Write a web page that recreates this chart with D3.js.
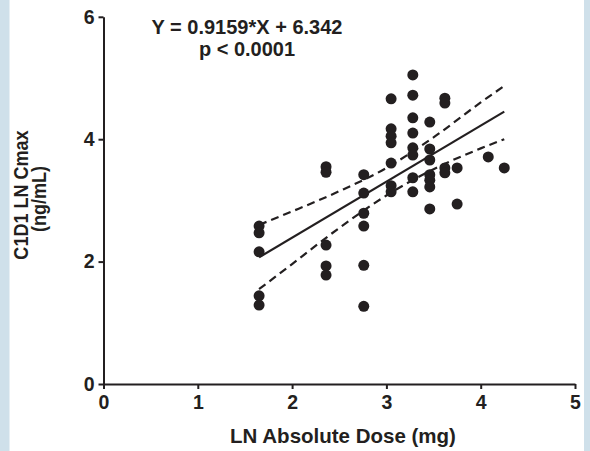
<!DOCTYPE html>
<html>
<head>
<meta charset="utf-8">
<script src="https://cdn.jsdelivr.net/npm/d3@7"></script>
<style>
  body { margin: 0; background: #fff; }
  svg { display: block; }
  text { font-family: "Liberation Sans", Arial, sans-serif; font-weight: bold; fill: #231f20; }
</style>
</head>
<body>
<svg width="590" height="451"></svg>
<script>
// ln dose (x) and ln Cmax (y) of every patient
var doseX = [
  1.65, 1.65, 1.65, 1.65, 1.65,
  2.36, 2.36, 2.36, 2.36, 2.36,
  2.76, 2.76, 2.76, 2.76, 2.76, 2.76,
  3.05, 3.05, 3.05, 3.05, 3.05, 3.05, 3.05,
  3.28, 3.28, 3.28, 3.28, 3.28, 3.28, 3.28, 3.28,
  3.46, 3.46, 3.46, 3.46, 3.46, 3.46, 3.46,
  3.62, 3.62, 3.62, 3.62,
  3.75, 3.75,
  4.08,
  4.25
];
var cmaxY = [
  2.58, 2.47, 2.16, 1.44, 1.29,
  3.55, 3.46, 2.27, 1.93, 1.78,
  3.42, 3.12, 2.79, 2.58, 1.94, 1.27,
  4.66, 4.17, 4.05, 3.94, 3.61, 3.24, 3.14,
  5.05, 4.72, 4.35, 4.10, 3.86, 3.74, 3.37, 3.14,
  4.28, 3.84, 3.66, 3.42, 3.33, 3.22, 2.86,
  4.67, 4.59, 3.53, 3.45,
  3.53, 2.94,
  3.71,
  3.53
];

// fitted line and 95% band
var fitX = [1.65, 4.25];
var fitY = [2.07, 4.45];
var bandX = [1.65, 2.0, 2.5, 3.0, 3.5, 4.0, 4.25];
var bandUpper = [2.60, 2.82, 3.15, 3.53, 4.03, 4.60, 4.87];
var bandLower = [1.55, 1.96, 2.55, 3.08, 3.51, 3.85, 4.00];

var xTicks = [0, 1, 2, 3, 4, 5];
var yTicks = [0, 2, 4, 6];

var svg = d3.select("svg");
var ink = "#231f20";

// pale blue page edges
svg.append("rect").attr("x", 0).attr("y", 0).attr("width", 9.5).attr("height", 451).attr("fill", "#cfe0ea");
svg.append("rect").attr("x", 584).attr("y", 0).attr("width", 6).attr("height", 451).attr("fill", "#cfe0ea");

var x = d3.scaleLinear().domain([0, 5]).range([103.5, 575]);
var y = d3.scaleLinear().domain([0, 6]).range([384, 16.8]);

var xAxis = svg.append("g")
  .attr("transform", "translate(0," + y(0) + ")")
  .call(d3.axisBottom(x).tickValues(xTicks).tickSize(5).tickSizeOuter(0).tickPadding(6).tickFormat(d3.format("d")));

var yAxis = svg.append("g")
  .attr("transform", "translate(" + x(0) + ",0)")
  .call(d3.axisLeft(y).tickValues(yTicks).tickSize(5).tickSizeOuter(0).tickPadding(4).tickFormat(d3.format("d")));

[xAxis, yAxis].forEach(function(a) {
  a.selectAll("path, line").attr("stroke", ink).attr("stroke-width", 2);
  a.selectAll("text").style("font-size", "19.5px").attr("fill", ink);
});

// line + band
var line = d3.line()
  .x(function(d) { return x(d[0]); })
  .y(function(d) { return y(d[1]); });
var bandLine = d3.line()
  .curve(d3.curveMonotoneX)
  .x(function(d) { return x(d[0]); })
  .y(function(d) { return y(d[1]); });

svg.append("path")
  .datum(fitX.map(function(v, i) { return [v, fitY[i]]; }))
  .attr("d", line)
  .attr("fill", "none").attr("stroke", ink).attr("stroke-width", 2.2);

[bandUpper, bandLower].forEach(function(b) {
  svg.append("path")
    .datum(bandX.map(function(v, i) { return [v, b[i]]; }))
    .attr("d", bandLine)
    .attr("fill", "none").attr("stroke", ink).attr("stroke-width", 2.2)
    .attr("stroke-dasharray", "8,5");
});

svg.selectAll("circle.pt")
  .data(doseX.map(function(v, i) { return [v, cmaxY[i]]; }))
  .enter()
  .append("circle")
  .attr("class", "pt")
  .attr("cx", function(d) { return x(d[0]); })
  .attr("cy", function(d) { return y(d[1]); })
  .attr("r", 5.5)
  .attr("fill", ink);

// equation
svg.append("text").attr("x", 247).attr("y", 34).attr("text-anchor", "middle")
  .style("font-size", "20px").text("Y = 0.9159*X + 6.342");
svg.append("text").attr("x", 247).attr("y", 56).attr("text-anchor", "middle")
  .style("font-size", "20px").text("p < 0.0001");

// axis titles
svg.append("text").attr("x", 343).attr("y", 443).attr("text-anchor", "middle")
  .style("font-size", "20.5px").text("LN Absolute Dose (mg)");

svg.append("text")
  .attr("transform", "translate(27.5,195) rotate(-90) scale(0.88,1)")
  .attr("text-anchor", "middle")
  .style("font-size", "20.5px").text("C1D1 LN Cmax");
svg.append("text")
  .attr("transform", "translate(46,199) rotate(-90) scale(0.88,1)")
  .attr("text-anchor", "middle")
  .style("font-size", "20.5px").text("(ng/mL)");
</script>
</body>
</html>
